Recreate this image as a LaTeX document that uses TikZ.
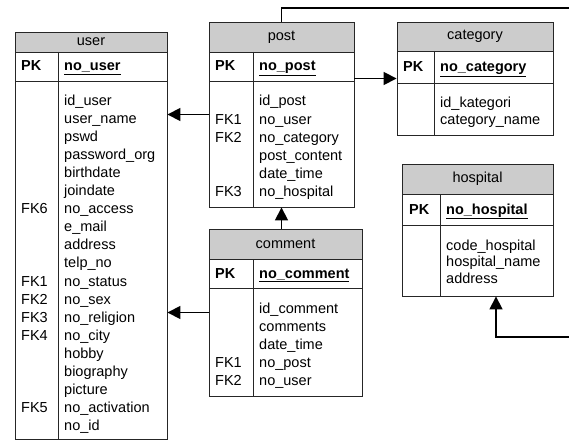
\documentclass[tikz,border=0pt]{standalone}
\usepackage{fontspec}
\setmainfont{Liberation Sans}
\usetikzlibrary{arrows.meta,fit}
\newcommand\fs{\fontsize{14.5}{17}\selectfont}
% one entity table: name, title, x1, x2, xdiv, ytop, yhead, ypk, ybottom
\newcommand\ertable[9]{%
  \node[hdr, fit={(#3,#6) (#4,#7)}] (#1-head) {};
  \node[ttl] (#1-title) at (#1-head.center) {#2};
  \node[tbl, fit={(#3,#6) (#4,#9)}] (#1) {};
  \draw[tblline] (#3,#8) -- (#4,#8) (#5,#7) -- (#5,#9);
}
\tikzset{
  tblline/.style={draw=black!85, line width=0.9pt},
  tbl/.style={tblline, inner sep=0pt},
  hdr/.style={tbl, fill=black!20},
  ttl/.style={font=\fs, inner sep=0pt},
  field/.style={anchor=base west, inner sep=0pt, font=\fs},
  pkey/.style={field, font=\fs\bfseries},
  conn/.style={line width=1.7pt, -{Triangle[length=13pt,width=13pt]}},
}
\begin{document}
\begin{tikzpicture}[x=1pt,y=-1pt]
\useasboundingbox (0,0) rectangle (569,441);

% tables
\ertable{user}{user}{15}{167}{58}{32}{52}{81}{439}
\ertable{post}{post}{209}{354}{253}{22}{52}{81}{207}
\ertable{category}{category}{397}{553}{434}{22}{51}{83}{135}
\ertable{hospital}{hospital}{402}{553}{440}{164}{194}{225}{296}
\ertable{comment}{comment}{209}{362}{253}{229}{259}{288}{396}

% user
\node[pkey] (user-pk) at (21,71) {PK};
\node[pkey] (user-key) at (64,71) {\underline{no\_user}};
\foreach \t [count=\i from 0] in {id\_user,user\_name,pswd,password\_org,birthdate,joindate,no\_access,e\_mail,address,telp\_no,no\_status,no\_sex,no\_religion,no\_city,hobby,biography,picture,no\_activation,no\_id}
  \node[field] (user-f\i) at (64,105+\i*18.1) {\t};
\foreach \r/\k in {6/FK6,10/FK1,11/FK2,12/FK3,13/FK4,17/FK5}
  \node[field] (user-k\r) at (21,105+\r*18.1) {\k};

% post
\node[pkey] (post-pk) at (215,71) {PK};
\node[pkey] (post-key) at (259,71) {\underline{no\_post}};
\foreach \t [count=\i from 0] in {id\_post,no\_user,no\_category,post\_content,date\_time,no\_hospital}
  \node[field] (post-f\i) at (259,106+\i*18) {\t};
\foreach \r/\k in {1/FK1,2/FK2,5/FK3}
  \node[field] (post-k\r) at (215,106+\r*18) {\k};

% category
\node[pkey] (category-pk) at (403,72) {PK};
\node[pkey] (category-key) at (440,72) {\underline{no\_category}};
\foreach \t [count=\i from 0] in {id\_kategori,category\_name}
  \node[field] (category-f\i) at (440,107+\i*17) {\t};

% hospital
\node[pkey] (hospital-pk) at (409,214) {PK};
\node[pkey] (hospital-key) at (446,214) {\underline{no\_hospital}};
\foreach \t [count=\i from 0] in {code\_hospital,hospital\_name,address}
  \node[field] (hospital-f\i) at (446,250+\i*16.7) {\t};

% comment
\node[pkey] (comment-pk) at (215,278) {PK};
\node[pkey] (comment-key) at (259,278) {\underline{no\_comment}};
\foreach \t [count=\i from 0] in {id\_comment,comments,date\_time,no\_post,no\_user}
  \node[field] (comment-f\i) at (259,313+\i*18) {\t};
\foreach \r/\k in {3/FK1,4/FK2}
  \node[field] (comment-k\r) at (215,313+\r*18) {\k};

% relationships
\draw[conn] (post.west) -- (post.west -| user.east);
\draw[conn] (category.west -| post.east) -- (category.west);
\draw[conn] (post.south |- comment.north) -- (post.south);
\draw[conn] (comment.west) -- (comment.west -| user.east);
\coordinate (rt) at (580,8);
\coordinate (rb) at (580,337);
\coordinate (hs) at ([xshift=18.5pt]hospital.south);
\draw[conn] (post.north) -- (post.north |- rt) -- (rt) -- (rb) -- (hs |- rb) -- (hs);
\end{tikzpicture}
\end{document}
